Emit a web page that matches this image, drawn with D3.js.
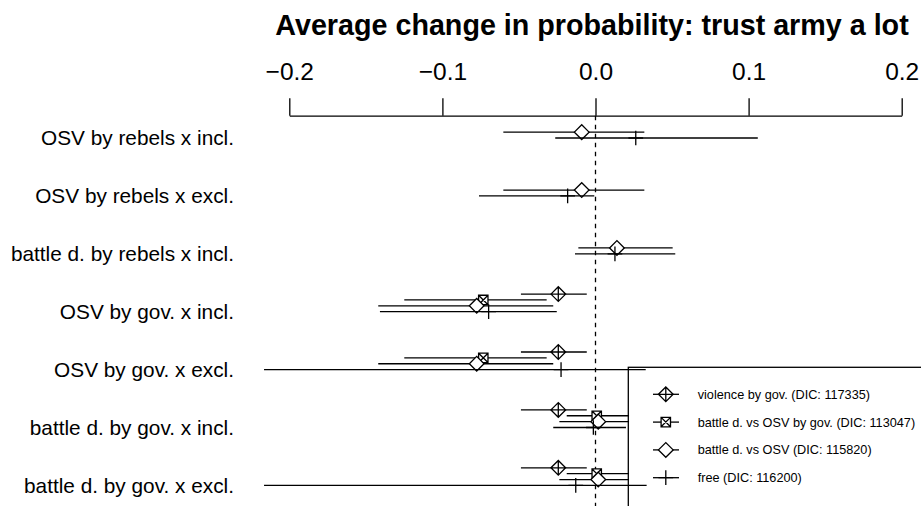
<!DOCTYPE html>
<html>
<head>
<meta charset="utf-8">
<script src="https://cdn.jsdelivr.net/npm/d3@7"></script>
<style>
  body { margin: 0; background: #fff; }
  text { font-family: "Liberation Sans", Arial, Helvetica, sans-serif; fill: #000; }
</style>
</head>
<body>
<div id="chart"></div>
<script>
// Row labels (top to bottom)
const rows = [
  "OSV by rebels x incl.",
  "OSV by rebels x excl.",
  "battle d. by rebels x incl.",
  "OSV by gov. x incl.",
  "OSV by gov. x excl.",
  "battle d. by gov. x incl.",
  "battle d. by gov. x excl."
];

// Models, in drawing order, with their DIC
const models = ["violence by gov.", "battle d. vs OSV by gov.", "battle d. vs OSV", "free"];
const dic = [117335, 113047, 115820, 116200];
const pchs = [9, 7, 5, 3];

// Estimates and intervals per model (null = not in model)
const violenceEst = [null, null, null, -0.0243, -0.0243, -0.0243, -0.0243];
const violenceLo  = [null, null, null, -0.0487, -0.0487, -0.0487, -0.0487];
const violenceHi  = [null, null, null, -0.0057, -0.0057, -0.0057, -0.0057];

const byGovEst = [null, null, null, -0.0733, -0.0733, 0.0008, 0.0008];
const byGovLo  = [null, null, null, -0.1249, -0.1249, -0.0188, -0.0188];
const byGovHi  = [null, null, null, -0.0319, -0.0319, 0.0219, 0.0219];

const bdOsvEst = [-0.0090, -0.0090, 0.0140, -0.0776, -0.0776, 0.0018, 0.0018];
const bdOsvLo  = [-0.0602, -0.0602, -0.0112, -0.1419, -0.1419, -0.0236, -0.0236];
const bdOsvHi  = [0.0319, 0.0319, 0.0504, -0.0276, -0.0276, 0.0219, 0.0219];

const freeEst = [0.0263, -0.0182, 0.0127, -0.0698, -0.0225, -0.0014, -0.0129];
const freeLo  = [-0.0263, -0.0761, -0.0134, -0.1408, -0.2165, -0.0276, -0.2165];
const freeHi  = [0.1060, -0.0008, 0.0521, -0.0253, 0.0328, 0.0199, 0.0334];

const ticks = [-0.2, -0.1, 0.0, 0.1, 0.2];

const ests = [violenceEst, byGovEst, bdOsvEst, freeEst];
const los = [violenceLo, byGovLo, bdOsvLo, freeLo];
const his = [violenceHi, byGovHi, bdOsvHi, freeHi];

const width = 921;
const height = 506;
const lw = 1.3;

const svg = d3.select("#chart")
  .append("svg")
  .attr("width", width)
  .attr("height", height)
  .style("background-color", "#fff");

const x = d3.scaleLinear().domain([-0.2, 0.2]).range([289.3, 901.7]);
const y = d3.scalePoint().domain(rows).range([138, 485.4]);
const offset = d3.scalePoint().domain(models).range([-17.6, 0]);

// R-like plotting symbols
function symbolPath(pch, cx, cy) {
  const d = 7.35;   // diamond / plus half size
  const s = 4.7;    // square half side
  const diamond = `M${cx - d},${cy}L${cx},${cy - d}L${cx + d},${cy}L${cx},${cy + d}Z`;
  const plus = `M${cx - d},${cy}L${cx + d},${cy}M${cx},${cy - d}L${cx},${cy + d}`;
  if (pch === 9) return diamond + plus;
  if (pch === 7) {
    return `M${cx - s},${cy - s}L${cx + s},${cy - s}L${cx + s},${cy + s}L${cx - s},${cy + s}Z` +
      `M${cx - s},${cy - s}L${cx + s},${cy + s}M${cx + s},${cy - s}L${cx - s},${cy + s}`;
  }
  if (pch === 5) return diamond;
  return plus;
}

// Title
svg.append("text")
  .attr("x", 592)
  .attr("y", 35)
  .attr("text-anchor", "middle")
  .attr("font-size", "28.7px")
  .attr("font-weight", "bold")
  .text("Average change in probability: trust army a lot");

// Top axis
const axisY = 115.7;
const axis = svg.append("g")
  .attr("transform", `translate(0,${axisY})`)
  .call(d3.axisTop(x).tickValues(ticks).tickFormat(d3.format(".1f"))
    .tickSize(17.5).tickSizeOuter(0).tickPadding(18));
axis.selectAll("path, line").attr("stroke", "#000").attr("stroke-width", lw);
axis.selectAll("text")
  .attr("font-size", "24.5px")
  .style("font-family", "'Liberation Sans', Arial, Helvetica, sans-serif")
  .attr("fill", "#000");

// Zero line
svg.append("line")
  .attr("x1", x(0)).attr("x2", x(0))
  .attr("y1", axisY).attr("y2", height)
  .attr("stroke", "#000")
  .attr("stroke-width", lw)
  .attr("stroke-dasharray", "4.5,4.5");

// Row labels
svg.append("g")
  .selectAll("text")
  .data(rows)
  .enter().append("text")
  .attr("x", 234)
  .attr("y", d => y(d))
  .attr("dy", "0.36em")
  .attr("text-anchor", "end")
  .attr("font-size", "20.8px")
  .text(d => d);

// Intervals and points
const marks = [];
models.forEach((m, mi) => {
  rows.forEach((r, ri) => {
    if (ests[mi][ri] === null) return;
    marks.push({ model: m, pch: pchs[mi], row: r, est: ests[mi][ri], lo: los[mi][ri], hi: his[mi][ri] });
  });
});

const g = svg.append("g").attr("class", "marks");

marks.forEach(d => {
  const yy = y(d.row) + offset(d.model);
  g.append("line")
    .attr("x1", x(d.lo)).attr("x2", x(d.hi))
    .attr("y1", yy).attr("y2", yy)
    .attr("stroke", "#000")
    .attr("stroke-width", lw);
  g.append("path")
    .attr("d", symbolPath(d.pch, x(d.est), yy))
    .attr("fill", "#fff")
    .attr("stroke", "#000")
    .attr("stroke-width", lw);
});

// Legend
const legend = svg.append("g").attr("class", "legend");
legend.append("rect")
  .attr("x", 628.3)
  .attr("y", 367.3)
  .attr("width", 400)
  .attr("height", 200)
  .attr("fill", "none")
  .attr("stroke", "#000")
  .attr("stroke-width", lw);

models.forEach((m, i) => {
  const ly = 394.3 + i * 27.8;
  legend.append("line")
    .attr("x1", 653).attr("x2", 679)
    .attr("y1", ly).attr("y2", ly)
    .attr("stroke", "#000")
    .attr("stroke-width", lw);
  legend.append("path")
    .attr("d", symbolPath(pchs[i], 665.8, ly))
    .attr("fill", "#fff")
    .attr("stroke", "#000")
    .attr("stroke-width", lw);
  legend.append("text")
    .attr("x", 697.7)
    .attr("y", ly)
    .attr("dy", "0.35em")
    .attr("font-size", "12.7px")
    .text(`${m} (DIC: ${dic[i]})`);
});
</script>
</body>
</html>
